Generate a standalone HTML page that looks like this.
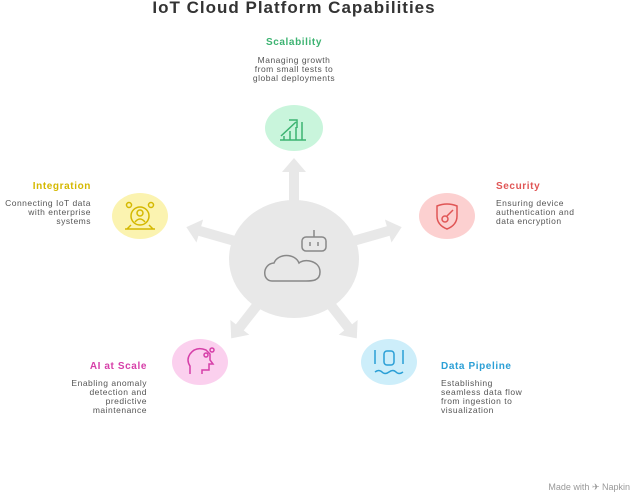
<!DOCTYPE html>
<html><head><meta charset="utf-8"><style>
html,body{margin:0;padding:0;background:#fff;}
svg{display:block;font-family:"Liberation Sans",sans-serif;}
.d{font-size:8.5px;fill:#555;letter-spacing:0.5px;}
.t{font-size:10px;font-weight:bold;letter-spacing:0.6px;}
</style></head><body>
<svg width="639" height="493" viewBox="0 0 639 493">
<text x="294" y="13" text-anchor="middle" font-size="17" font-weight="bold" fill="#333" letter-spacing="1">IoT Cloud Platform Capabilities</text>
<g fill="#e8e8e8">
<g transform="translate(294,258)">
 <g transform="rotate(-90)"><rect x="40" y="-5" width="48" height="10"/><polygon points="86,-12 100,0 86,12"/></g>
 <g transform="rotate(-164)"><rect x="40" y="-5" width="60" height="10"/><polygon points="98,-12 112,0 98,12"/></g>
 <g transform="rotate(-16)"><rect x="40" y="-5" width="60" height="10"/><polygon points="98,-12 112,0 98,12"/></g>
 <g transform="rotate(128)"><rect x="40" y="-5" width="50" height="10"/><polygon points="88,-12 102,0 88,12"/></g>
 <g transform="rotate(52)"><rect x="40" y="-5" width="50" height="10"/><polygon points="88,-12 102,0 88,12"/></g>
</g>
<ellipse cx="294" cy="259" rx="65" ry="59"/>
</g>
<g fill="none" stroke="#888" stroke-width="1.5">
<path d="M272 281 C262 281 262 264 274 263 C278 253 295 253 299 263 C305 258 320 261 320 272 C320 281 312 281 306 281 Z"/>
<rect x="302" y="237" width="24" height="14" rx="4"/>
<line x1="314" y1="230" x2="314" y2="237"/>
<line x1="310" y1="242" x2="310" y2="246"/><line x1="318" y1="242" x2="318" y2="246"/>
</g>
<ellipse cx="294" cy="128" rx="29" ry="23" fill="#c9f5dc"/>
<g fill="none" stroke="#3cb371" stroke-width="1.5"><path d="M281 136 L296 122 M289 120 L297 120 L297 128"/><path d="M284 140 V136 M290 140V131 M296 140V127 M302 140V122 M306 140 H280"/></g>
<ellipse cx="447" cy="216" rx="28" ry="23" fill="#fcd0d0"/>
<g fill="none" stroke="#e05555" stroke-width="1.5"><path d="M437 206 Q447 202 457 206 V216 Q457 225 447 229 Q437 225 437 216Z"/><circle cx="445" cy="219" r="3"/><path d="M447 216 L453 210"/></g>
<ellipse cx="389" cy="362" rx="28" ry="23" fill="#cdeefa"/>
<g fill="none" stroke="#2a9fd6" stroke-width="1.5"><rect x="384" y="351" width="10" height="14" rx="3"/><path d="M375 350V364 M403 350V364 M375 372 q4 -3 7 0 t7 0 t7 0 t7 0"/></g>
<ellipse cx="200" cy="362" rx="28" ry="23" fill="#fbd0ee"/>
<g fill="none" stroke="#d63fa8" stroke-width="1.5"><path d="M190 374 V366 Q186 360 190 354 Q196 346 206 350 L210 354 V360 L213 364 H209 V370 H202 V374"/><circle cx="206" cy="355" r="2"/><circle cx="212" cy="350" r="2"/></g>
<ellipse cx="140" cy="216" rx="28" ry="23" fill="#fbf3b0"/>
<g fill="none" stroke="#d4b800" stroke-width="1.5"><circle cx="140" cy="216" r="9"/><circle cx="140" cy="213" r="3"/><path d="M135 222 Q140 216 145 222"/><circle cx="129" cy="205" r="2.5"/><circle cx="151" cy="205" r="2.5"/><path d="M131 225 L127 229 M149 225 L153 229 M125 229 H155"/></g>
<text x="294" y="45" text-anchor="middle" class="t" fill="#3cb371">Scalability</text>
<text x="294" y="63" text-anchor="middle" class="d">Managing growth</text>
<text x="294" y="72" text-anchor="middle" class="d">from small tests to</text>
<text x="294" y="81" text-anchor="middle" class="d">global deployments</text>
<text x="496" y="189" class="t" fill="#e05555">Security</text>
<text x="496" y="206" class="d">Ensuring device</text>
<text x="496" y="215" class="d">authentication and</text>
<text x="496" y="224" class="d">data encryption</text>
<text x="441" y="369" class="t" fill="#2a9fd6">Data Pipeline</text>
<text x="441" y="386" class="d">Establishing</text>
<text x="441" y="395" class="d">seamless data flow</text>
<text x="441" y="404" class="d">from ingestion to</text>
<text x="441" y="413" class="d">visualization</text>
<text x="147" y="369" text-anchor="end" class="t" fill="#d63fa8">AI at Scale</text>
<text x="147" y="386" text-anchor="end" class="d">Enabling anomaly</text>
<text x="147" y="395" text-anchor="end" class="d">detection and</text>
<text x="147" y="404" text-anchor="end" class="d">predictive</text>
<text x="147" y="413" text-anchor="end" class="d">maintenance</text>
<text x="91" y="189" text-anchor="end" class="t" fill="#d4b800">Integration</text>
<text x="91" y="206" text-anchor="end" class="d">Connecting IoT data</text>
<text x="91" y="215" text-anchor="end" class="d">with enterprise</text>
<text x="91" y="224" text-anchor="end" class="d">systems</text>
<text x="630" y="490" text-anchor="end" font-size="9" fill="#999">Made with ✈ Napkin</text>
</svg>
</body></html>
